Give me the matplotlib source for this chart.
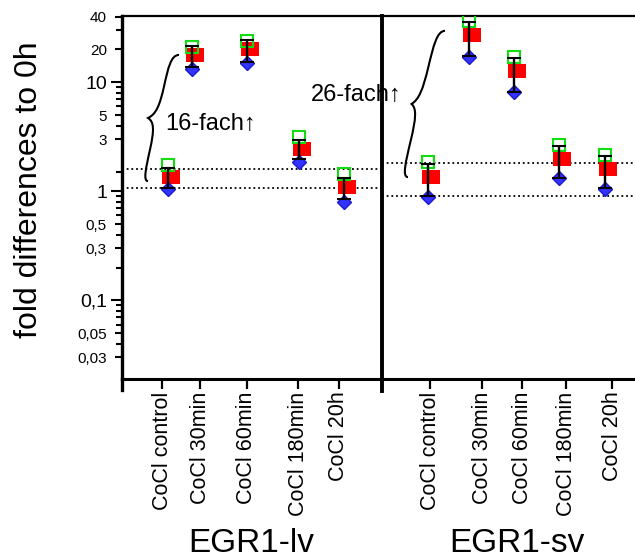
import numpy as np
import matplotlib
matplotlib.use("Agg")
import matplotlib.pyplot as plt
from matplotlib.path import Path
from matplotlib.patches import PathPatch
from matplotlib.transforms import IdentityTransform, blended_transform_factory

plt.rcParams['font.family'] = ['Liberation Sans', 'DejaVu Sans']

conditions = ["CoCl control", "CoCl 30min", "CoCl 60min", "CoCl 180min", "CoCl 20h"]
groups = ["EGR1-lv", "EGR1-sv"]

# red squares (mean), green squares (upper value), blue diamonds (lower value)
mean_lv = [1.36, 17.8, 20.2, 2.44, 1.10]
mean_sv = [1.36, 27.2, 12.7, 1.99, 1.61]
high_lv = [1.74, 21.2, 23.9, 3.17, 1.43]
high_sv = [1.85, 36.5, 17.2, 2.68, 2.17]
low_lv = [1.04, 13.2, 15.1, 1.85, 0.80]
low_sv = [0.89, 17.2, 8.15, 1.32, 1.05]
# error bar ends
errtop_lv = [1.63, 21.7, 24.3, 2.95, 1.32]
errbot_lv = [1.08, 13.9, 15.3, 1.97, 0.845]
errtop_sv = [1.78, 35.5, 16.6, 2.60, 2.11]
errbot_sv = [0.906, 17.4, 8.2, 1.33, 1.065]
# dotted reference lines
ref_lv = [1.60, 1.07]
ref_sv = [1.80, 0.905]
fold_labels = ["16-fach\u2191", "26-fach\u2191"]

ytick_major = [0.1, 1, 10]
ytick_labeled = [0.03, 0.05, 0.3, 0.5, 3, 5, 20, 40]
ytick_minor = [0.04, 0.06, 0.07, 0.08, 0.09, 0.2, 0.4, 0.6, 0.7, 0.8, 0.9,
               1.5, 4, 6, 7, 8, 9, 30]

# layout (x in pixels right of the y axis)
mark_x = [[46, 70, 125, 177, 222], [306, 347, 392, 437, 483]]
tick_x = [[40, 78, 125, 176, 217], [308, 360, 400, 444, 490]]
divider_x = 259.5
W, H = 635, 558

fig = plt.figure(figsize=(W / 100, H / 100), dpi=100)
ax = fig.add_axes([122 / W, (H - 379) / H, 513 / W, 363 / H])
ax.set_yscale('log')
ax.set_xlim(0, 513)
ax.set_ylim(0.019, 40.5)

red = '#ff0000'
green = '#11dd11'
blue = '#3333ff'
rect = [(-9, -7), (9, -7), (9, 7), (-9, 7), (-9, -7)]

series = [(mean_lv, high_lv, low_lv, errtop_lv, errbot_lv),
          (mean_sv, high_sv, low_sv, errtop_sv, errbot_sv)]
for xs, (mean, high, low, etop, ebot) in zip(mark_x, series):
    xs = np.array(xs, dtype=float)
    ax.plot(xs + 2.5, mean, ls='none', marker=rect, ms=13, mfc=red, mec=red, mew=0, zorder=3)
    ax.plot(xs, high, ls='none', marker='s', ms=8.1, mfc='none', mec=green, mew=1.5, zorder=4)
    ax.plot(xs, low, ls='none', marker='D', ms=7, mfc=blue, mec='#1a1acc', mew=1, zorder=5)
    ebot = np.array(ebot)
    ax.errorbar(xs, ebot, yerr=[np.zeros(len(ebot)), np.array(etop) - ebot], fmt='none',
                ecolor='black', elinewidth=1.7, capsize=4.9, capthick=1.5, zorder=6)

ax.hlines(ref_lv, 0, divider_x, colors='black', linestyles=(0, (1, 1.6)), lw=1.3)
ax.hlines(ref_sv, divider_x, 513, colors='black', linestyles=(0, (1, 1.6)), lw=1.3)

# spines
ax.spines['right'].set_visible(False)
ax.spines['left'].set_linewidth(2.4)
ax.spines['bottom'].set_linewidth(2.2)
ax.spines['top'].set_linewidth(1.6)
ax.axvline(0, ymin=-11 / 363, ymax=0, color='black', lw=2.4, clip_on=False)
ax.axvline(divider_x, ymin=-12 / 363, ymax=1, color='black', lw=2.8, clip_on=False)

# x ticks
ax.set_xticks(tick_x[0] + tick_x[1], conditions * 2, rotation=90, fontsize=15.5)
ax.tick_params(axis='x', direction='out', length=7.5, width=1.6, pad=1.5)

# y ticks with labels drawn by hand
ax.yaxis.set_major_locator(matplotlib.ticker.FixedLocator(ytick_major + ytick_labeled))
ax.yaxis.set_minor_locator(matplotlib.ticker.FixedLocator(ytick_minor))
ax.yaxis.set_major_formatter(matplotlib.ticker.NullFormatter())
ax.yaxis.set_minor_formatter(matplotlib.ticker.NullFormatter())
ax.tick_params(axis='y', which='major', direction='out', length=5, width=1.5)
ax.tick_params(axis='y', which='minor', direction='out', length=4.5, width=1.5)
for t, v in zip(ax.yaxis.get_major_ticks(), ytick_major + ytick_labeled):
    if v in ytick_major:
        t.tick1line.set_markersize(8)

lab_tr = blended_transform_factory(ax.transAxes, ax.transData)
for v in ytick_major + ytick_labeled:
    s = ('%g' % v).replace('.', ',')
    big = v in ytick_major
    ax.text(-15 / 513, v, s, transform=lab_tr, ha='right', va='center_baseline',
            fontsize=14 if big else 11)

# annotations
ax.text(43, 3.65, fold_labels[0], fontsize=17, ha='left', va='baseline')
ax.text(189, 6.67, fold_labels[1], fontsize=17, ha='left', va='baseline')


def brace(top, bottom, h_top, h_bot, depth):
    T = ax.transData.transform(top)
    B = ax.transData.transform(bottom)

    def P(u, v):
        return (T[0] + u * (B[0] - T[0]) + v, T[1] + u * (B[1] - T[1]))

    verts = [P(0, h_top), P(0, 0), P(0.1, 0), P(0.25, 0),
             P(0.4, 0), P(0.47, -0.2 * depth), P(0.5, -depth),
             P(0.53, -0.2 * depth), P(0.6, 0), P(0.75, 0),
             P(0.9, 0), P(1, 0), P(1, h_bot)]
    codes = [Path.MOVETO] + [Path.CURVE4] * 12
    ax.add_artist(PathPatch(Path(verts, codes), fill=False, lw=1.5, color='black',
                            transform=IdentityTransform(), clip_on=False))


brace((49, 17.8), (21, 1.24), 8, 5, 9)
brace((315, 29.6), (280, 1.35), 8, 6, 8)

fig.text(29 / W, 1 - 190 / H, "fold differences to 0h", rotation=90, fontsize=23,
         ha='center', va='center')
fig.text(251 / W, 1 - 552 / H, groups[0], fontsize=24, ha='center', va='baseline')
fig.text(517 / W, 1 - 552 / H, groups[1], fontsize=24, ha='center', va='baseline')

fig.savefig('out.png', dpi=100)
